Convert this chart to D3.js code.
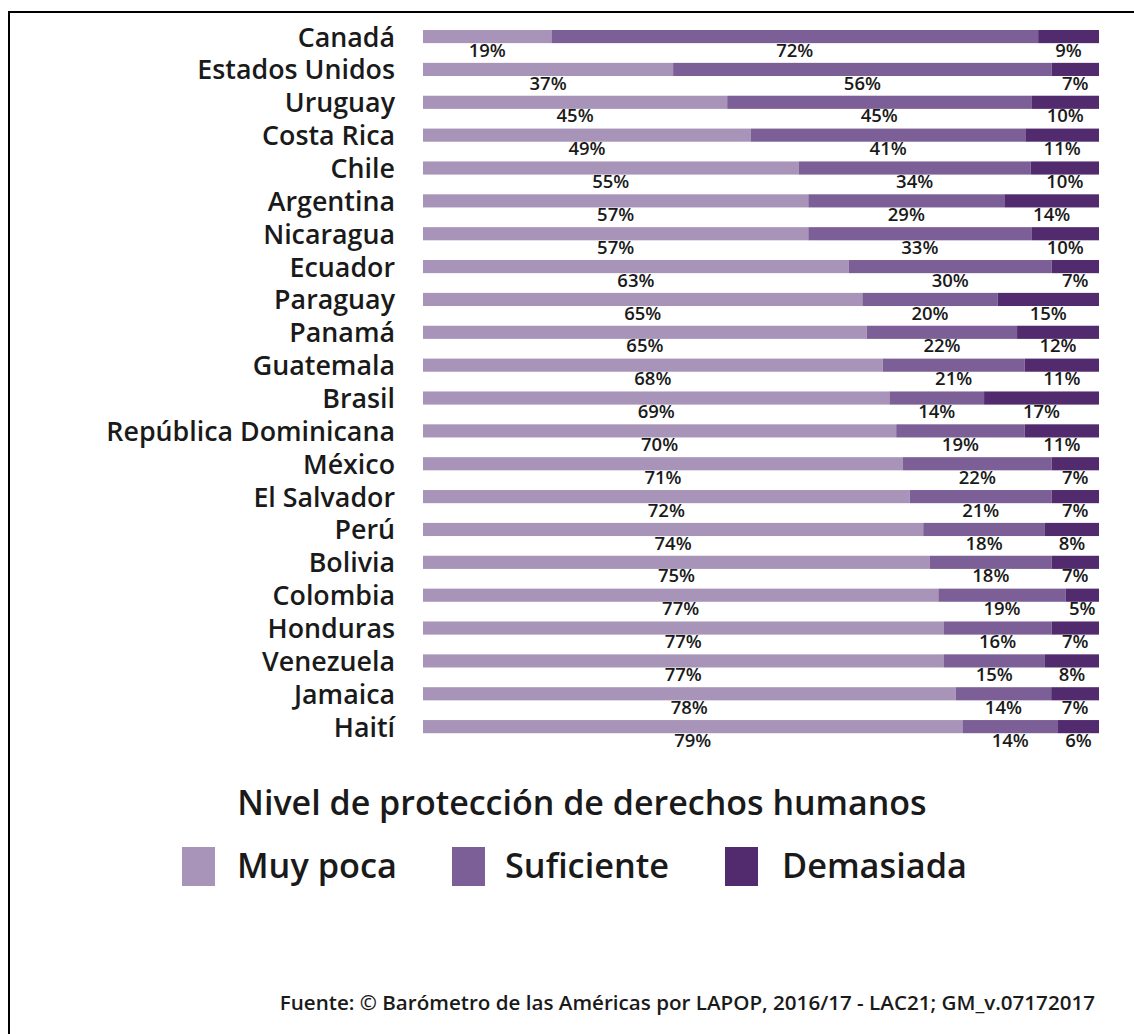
<!DOCTYPE html>
<html>
<head>
<meta charset="utf-8">
<script src="https://cdn.jsdelivr.net/npm/d3@7"></script>
<style>
  body { margin: 0; background: #fff; }
  text { font-family: "Open Sans", sans-serif; font-weight: 600; fill: #1a1a1a; }
</style>
</head>
<body>
<div id="grafico"></div>
<script>
// Datos

const paises = ["Canadá", "Estados Unidos", "Uruguay", "Costa Rica", "Chile", "Argentina",
  "Nicaragua", "Ecuador", "Paraguay", "Panamá", "Guatemala", "Brasil",
  "República Dominicana", "México", "El Salvador", "Perú", "Bolivia", "Colombia",
  "Honduras", "Venezuela", "Jamaica", "Haití"];
const muy_poca   = [19, 37, 45, 49, 55, 57, 57, 63, 65, 65, 68, 69, 70, 71, 72, 74, 75, 77, 77, 77, 78, 79];
const suficiente = [72, 56, 45, 41, 34, 29, 33, 30, 20, 22, 21, 14, 19, 22, 21, 18, 18, 19, 16, 15, 14, 14];
const demasiada  = [ 9,  7, 10, 11, 10, 14, 10,  7, 15, 12, 11, 17, 11,  7,  7,  8,  7,  5,  7,  8,  7,  6];
const niveles = ["Muy poca", "Suficiente", "Demasiada"];
const colores = ["#a894b9", "#7b5f96", "#522a6e"];
const titulo_leyenda = "Nivel de protección de derechos humanos";
const fuente = "Fuente: © Barómetro de las Américas por LAPOP, 2016/17 - LAC21; GM_v.07172017";

// Lienzo

const ancho = 1134;
const alto = 1034;

const svg = d3.select('#grafico')
  .append('svg')
  .attr('width', ancho)
  .attr('height', alto);

// marco
svg.append('rect')
  .attr('x', 9).attr('y', 12)
  .attr('width', ancho + 20).attr('height', alto + 20)
  .attr('fill', 'none')
  .attr('stroke', '#000')
  .attr('stroke-width', 2);

// tabla para el stack
const tabla = paises.map((p, i) => ({
  pais: p,
  "Muy poca": muy_poca[i],
  "Suficiente": suficiente[i],
  "Demasiada": demasiada[i]
}));

const series = d3.stack()
  .keys(niveles)
  .offset(d3.stackOffsetExpand)(tabla);

// Escalas

const escala_x = d3.scaleLinear()
  .domain([0, 1])
  .range([423, 1099]);

const paso = 32.86;
const escala_y = d3.scaleBand()
  .domain(paises)
  .range([30, 30 + paso * (paises.length - 0.6)])
  .paddingInner(0.6)
  .paddingOuter(0);

const color = d3.scaleOrdinal().domain(niveles).range(colores);

// Barras

const grupos = svg.selectAll('g.serie')
  .data(series)
  .enter()
  .append('g')
  .attr('class', 'serie')
  .attr('fill', d => color(d.key));

grupos.selectAll('rect')
  .data(d => d)
  .enter()
  .append('rect')
  .attr('x', d => escala_x(d[0]))
  .attr('y', d => escala_y(d.data.pais))
  .attr('width', d => escala_x(d[1]) - escala_x(d[0]))
  .attr('height', escala_y.bandwidth());

// Etiquetas de porcentaje (debajo de cada segmento)

grupos.selectAll('text')
  .data(d => d.map(v => Object.assign({}, v, { key: d.key })))
  .enter()
  .append('text')
  .text(d => d.data[d.key] + '%')
  .attr('x', d => (escala_x(d[0]) + escala_x(d[1])) / 2)
  .attr('y', d => escala_y(d.data.pais) + escala_y.bandwidth() + 13.5)
  .attr('font-size', 18.5)
  .attr('text-anchor', 'middle');

// Nombres de países

svg.selectAll('text.pais')
  .data(paises)
  .enter()
  .append('text')
  .attr('class', 'pais')
  .text(d => d)
  .attr('x', 395)
  .attr('y', d => escala_y(d) + 16.5)
  .attr('font-size', 26.8)
  .attr('text-anchor', 'end');

// Leyenda

svg.append('text')
  .text(titulo_leyenda)
  .attr('x', 582)
  .attr('y', 815)
  .attr('font-size', 34)
  .attr('text-anchor', 'middle');

const pos_cuadro = [182, 452, 725];
const pos_texto = [237, 505, 782];

const items = svg.selectAll('g.leyenda')
  .data(niveles)
  .enter()
  .append('g')
  .attr('class', 'leyenda');

items.append('rect')
  .attr('x', (d, i) => pos_cuadro[i])
  .attr('y', 847)
  .attr('width', 33)
  .attr('height', 39)
  .attr('fill', d => color(d));

items.append('text')
  .text(d => d)
  .attr('x', (d, i) => pos_texto[i])
  .attr('y', 878)
  .attr('font-size', 34.3);

// Fuente

svg.append('text')
  .text(fuente)
  .attr('x', 1095)
  .attr('y', 1010)
  .attr('font-size', 20.6)
  .attr('text-anchor', 'end');
</script>
</body>
</html>
